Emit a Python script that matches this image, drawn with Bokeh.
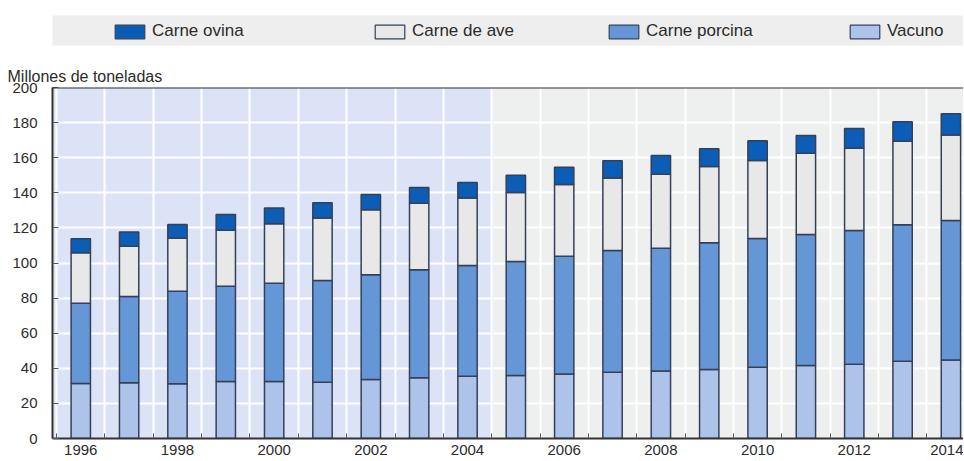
from bokeh.plotting import figure
from bokeh.models import ColumnDataSource, Range1d, FixedTicker, Legend, LegendItem, BoxAnnotation, Span
from bokeh.layouts import column
from bokeh.embed import file_html
from bokeh.resources import INLINE

# ---- data (million tonnes) ----
years = list(range(1996, 2015))
vacuno = [31.3, 31.7, 31.2, 32.5, 32.5, 32.1, 33.6, 34.6, 35.5, 35.9,
          36.8, 37.8, 38.4, 39.3, 40.6, 41.6, 42.3, 44.0, 44.8]
porcina = [45.8, 49.2, 52.7, 54.3, 56.0, 57.9, 59.7, 61.5, 63.1, 65.0,
           67.1, 69.3, 70.0, 72.2, 73.4, 74.6, 76.2, 77.8, 79.4]
ave = [28.7, 28.7, 30.2, 31.9, 33.8, 35.7, 37.0, 38.0, 38.5, 39.3,
       40.8, 41.4, 42.2, 43.5, 44.4, 46.4, 46.9, 47.6, 48.8]
ovina = [8.0, 8.0, 7.8, 8.9, 9.1, 8.6, 8.7, 8.9, 8.8, 9.8,
         9.9, 9.7, 10.7, 10.1, 11.2, 10.0, 11.2, 11.1, 12.0]
y_ticks = [0, 20, 40, 60, 80, 100, 120, 140, 160, 180, 200]
x_label_years = [1996, 1998, 2000, 2002, 2004, 2006, 2008, 2010, 2012, 2014]
projection_start = 2004.5

stack_keys = ["vacuno", "porcina", "ave", "ovina"]
stack_names = {"vacuno": "Vacuno", "porcina": "Carne porcina",
               "ave": "Carne de ave", "ovina": "Carne ovina"}
legend_order = ["ovina", "ave", "porcina", "vacuno"]

# ---- styles ----
FONT = "Liberation Sans, Arial, sans-serif"
TXT = "#2b2b2b"
col = {"vacuno": "#adc3e9", "porcina": "#6596d6", "ave": "#e7e8e7", "ovina": "#0b5db5"}
edge = "#34405a"
X_RANGE = (1995.415, 2014.26)

src = ColumnDataSource(dict(year=years, vacuno=vacuno, porcina=porcina, ave=ave, ovina=ovina))

# ---- legend strip: hidden copies of the series only serve as legend swatches ----
leg = figure(width=963, height=48, output_backend="svg", toolbar_location=None,
             x_range=Range1d(*X_RANGE), y_range=Range1d(0, 200),
             x_axis_type=None, y_axis_type=None,
             min_border_left=50, min_border_right=0, min_border_top=15, min_border_bottom=3)
leg.grid.visible = False
leg.background_fill_color = "#eeeeee"
leg.outline_line_color = None
leg_r = leg.vbar_stack(stack_keys, x="year", width=0.4, source=src,
                       fill_color=[col[k] for k in stack_keys], line_color=edge, line_width=1.2)
for r in leg_r:
    r.visible = False
leg_map = dict(zip(stack_keys, leg_r))
legend_x = [113, 373, 607, 848]
for key, lx in zip(legend_order, legend_x):
    L = Legend(items=[LegendItem(label=stack_names[key], renderers=[leg_map[key]])],
               location=(lx - 54, 4),
               orientation="horizontal", background_fill_alpha=0, border_line_color=None,
               padding=0, margin=0, glyph_width=37, glyph_height=17, label_standoff=4,
               inactive_fill_alpha=0, click_policy="none",
               label_text_font=FONT, label_text_font_size="17px", label_text_color=TXT)
    leg.add_layout(L, "center")

# ---- main chart ----
p = figure(width=963, height=413, output_backend="svg", toolbar_location=None,
           x_range=Range1d(*X_RANGE), y_range=Range1d(0, 200),
           min_border_left=52, min_border_right=0, min_border_top=39, min_border_bottom=23)
p.background_fill_color = "#eef0ef"
p.outline_line_color = None
p.title.text = "Millones de toneladas"
p.title.align = "left"
p.title.offset = -45
p.title.standoff = 6
p.title.text_font = FONT
p.title.text_font_size = "16px"
p.title.text_font_style = "normal"
p.title.text_color = TXT

p.add_layout(BoxAnnotation(right=projection_start, fill_color="#dde3f6", fill_alpha=1,
                           line_alpha=0, level="image"))

p.vbar_stack(stack_keys, x="year", width=0.4, source=src,
             fill_color=[col[k] for k in stack_keys], line_color=edge, line_width=1.5)

p.add_layout(Span(location=y_ticks[-1], dimension="width", line_color="#333333", line_width=2))

half_years = [y + 0.5 for y in range(1995, 2015)]
p.xaxis.ticker = FixedTicker(ticks=x_label_years, minor_ticks=half_years)
p.xgrid.ticker = FixedTicker(ticks=half_years)
p.yaxis.ticker = FixedTicker(ticks=y_ticks)
p.grid.grid_line_color = "white"
p.grid.grid_line_width = 2
p.grid.grid_line_alpha = 1

for ax in (p.xaxis[0], p.yaxis[0]):
    ax.axis_line_color = "#333333"
    ax.axis_line_width = 2
    ax.major_label_text_font = FONT
    ax.major_label_text_font_size = "15px"
    ax.major_label_text_color = TXT
    ax.major_tick_line_color = "#555555"
    ax.minor_tick_line_color = "#555555"

p.xaxis.major_tick_in = 0
p.xaxis.major_tick_out = 0
p.xaxis.minor_tick_in = 5
p.xaxis.minor_tick_out = 0
p.xaxis.major_label_standoff = 6
p.yaxis.major_tick_in = 6
p.yaxis.major_tick_out = 0
p.yaxis.minor_tick_line_color = None
p.yaxis.major_label_standoff = 15

layout = column(leg, p, spacing=0)
open("out.html", "w").write(file_html(layout, INLINE))
